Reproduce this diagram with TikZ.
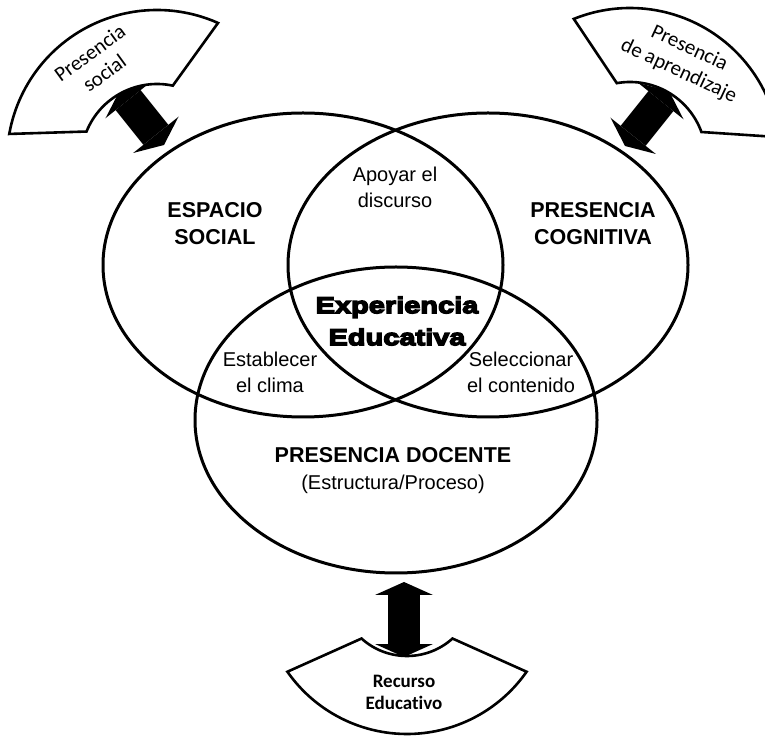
\documentclass[tikz,border=0pt]{standalone}
\usepackage{fontspec}
\setmainfont{Liberation Sans}
\newfontfamily\calibrifont[Ligatures=NoCommon]{Carlito}
\newfontfamily\heavyfont[BoldFeatures={FakeBold=6,FakeStretch=1.26}]{Liberation Sans}
\usetikzlibrary{arrows.meta}

\tikzset{
  venn/.style={line width=3pt},
  blockarc/.style={line width=2.6pt,fill=white,line join=miter},
  dblarrow/.style={line width=32pt,{Triangle[length=13pt,width=58pt,line width=0pt]}-{Triangle[length=13pt,width=58pt,line width=0pt]}},
  plaintext/.style={align=center,font=\fontsize{20}{26}\selectfont},
  boldtext/.style={align=center,font=\bfseries\fontsize{21.5}{27}\selectfont},
  tagtext/.style={align=center,font=\calibrifont\fontsize{21}{25}\selectfont},
}

\begin{document}
\begin{tikzpicture}[x=1pt,y=1pt]
	\useasboundingbox (0,0) rectangle (765,736);
	% the three presences
	\draw[venn] (303,471) ellipse (200 and 152);
	\draw[venn] (488,471) ellipse (200 and 152);
	\draw[venn] (396,316) ellipse (201 and 153);
	% arrows to the outer tags
	\coordinate (socA) at (120,646);
	\coordinate (socB) at (164,591);
	\coordinate (aprA) at (669,645);
	\coordinate (aprB) at (625,590);
	\coordinate (recA) at (404,154);
	\coordinate (recB) at (404,79);
	\draw[dblarrow] (socA) -- (socB);
	\draw[dblarrow] (aprA) -- (aprB);
	\draw[dblarrow] (recA) -- (recB);
	% block arcs
	\begin{scope}[shift={(157,576)}]
		\draw[blockarc] (170:150) arc[start angle=170,end angle=66,radius=150] -- (78:76) arc[start angle=78,end angle=158,radius=76] -- cycle;
	\end{scope}
	\begin{scope}[shift={(630,578)}]
		\draw[blockarc] (112:150) arc[start angle=112,end angle=8,radius=150] -- (20:76) arc[start angle=20,end angle=100,radius=76] -- cycle;
	\end{scope}
	\begin{scope}[shift={(407,148)}]
		\draw[blockarc] (215:146) arc[start angle=215,end angle=325,radius=146] -- (312:68) arc[start angle=312,end angle=228,radius=68] -- cycle;
	\end{scope}
	\node[tagtext,rotate=36] (socialtag) at (97,673) {Presencia\\social};
	\node[tagtext,rotate=-25] (learntag) at (684,676) {Presencia\\de aprendizaje};
	\node[tagtext,font=\calibrifont\bfseries\fontsize{19}{22}\selectfont] (resourcetag) at (404,44) {Recurso\\Educativo};
	% labels inside
	\node[boldtext] (social) at (215,512) {ESPACIO\\SOCIAL};
	\node[boldtext] (cognitive) at (593,512) {PRESENCIA\\COGNITIVA};
	\node[plaintext] (discourse) at (395,549) {Apoyar el\\discurso};
	\node[align=center,font=\heavyfont\bfseries\fontsize{23}{32}\selectfont] (core) at (397,415) {Experiencia\\Educativa};
	\node[plaintext] (climate) at (270,364) {Establecer\\el clima};
	\node[plaintext] (content) at (521,364) {Seleccionar\\el contenido};
	\node[plaintext,font=\fontsize{20}{27}\selectfont] (teaching) at (393,265) {\bfseries\fontsize{21.5}{27}\selectfont PRESENCIA DOCENTE\\(Estructura/Proceso)};
\end{tikzpicture}
\end{document}
